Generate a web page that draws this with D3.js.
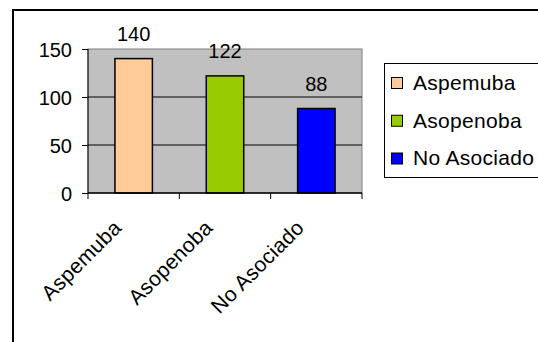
<!DOCTYPE html>
<html>
<head>
<meta charset="utf-8">
<script src="https://cdn.jsdelivr.net/npm/d3@7"></script>
<style>
  html, body { margin: 0; padding: 0; background: #fff; }
  svg { display: block; font-family: "Liberation Sans", Arial, sans-serif; }
</style>
</head>
<body>
<svg id="chart" width="538" height="342"></svg>
<script>
// Chart data
const categories = ["Aspemuba", "Asopenoba", "No Asociado"];
const values = [140, 122, 88];
const colors = ["#FFCC99", "#99CC00", "#0000FF"];
const yTicks = [0, 50, 100, 150];

const svg = d3.select("#chart");
const plot = { left: 88, right: 362, top: 49, bottom: 193 };

// Outer chart frame (runs past the window on the right and bottom)
svg.append("rect")
  .attr("x", 13).attr("y", 10)
  .attr("width", 600).attr("height", 400)
  .attr("fill", "#fff").attr("stroke", "#000").attr("stroke-width", 2);

const x = d3.scaleBand()
  .domain(categories)
  .range([plot.left, plot.right])
  .paddingInner(0.59).paddingOuter(0.295);

const xOuter = d3.scaleBand().domain(categories).range([plot.left, plot.right]);

const y = d3.scaleLinear().domain([0, 150]).range([plot.bottom, plot.top]);

// Plot area
svg.append("rect")
  .attr("x", plot.left).attr("y", plot.top)
  .attr("width", plot.right - plot.left).attr("height", plot.bottom - plot.top)
  .attr("fill", "#C0C0C0").attr("stroke", "#808080").attr("stroke-width", 1);

// Gridlines
svg.append("g").selectAll("line")
  .data(yTicks.filter(t => t > 0 && t < 150))
  .join("line")
  .attr("x1", plot.left).attr("x2", plot.right)
  .attr("y1", d => y(d)).attr("y2", d => y(d))
  .attr("stroke", "#000").attr("stroke-width", 1);

// Bars
svg.append("g").selectAll("rect")
  .data(values)
  .join("rect")
  .attr("x", (d, i) => x(categories[i]))
  .attr("width", x.bandwidth())
  .attr("y", d => y(d))
  .attr("height", d => y(0) - y(d))
  .attr("fill", (d, i) => colors[i])
  .attr("stroke", "#000").attr("stroke-width", 1.5);

// Value labels
svg.append("g").selectAll("text")
  .data(values)
  .join("text")
  .attr("x", (d, i) => x(categories[i]) + x.bandwidth() / 2)
  .attr("y", d => y(d) - 18)
  .attr("text-anchor", "middle")
  .attr("font-size", 20)
  .attr("fill", "#000")
  .text(d => d);

// Y axis
const yAxis = svg.append("g")
  .attr("transform", `translate(${plot.left},0)`)
  .call(d3.axisLeft(y).tickValues(yTicks).tickSize(6).tickPadding(10).tickFormat(d3.format("d")));
yAxis.select(".domain").attr("stroke", "#000").attr("d", `M0,${plot.top}V${plot.bottom}`);
yAxis.selectAll(".tick line").attr("stroke", "#000");
yAxis.selectAll(".tick text")
  .attr("font-size", 20).attr("font-family", "Liberation Sans, Arial, sans-serif")
  .attr("fill", "#000").attr("dy", "0.35em");

// X axis: line plus ticks at category boundaries
const xAxisG = svg.append("g");
xAxisG.append("line")
  .attr("x1", plot.left).attr("x2", plot.right)
  .attr("y1", plot.bottom).attr("y2", plot.bottom)
  .attr("stroke", "#000").attr("stroke-width", 1.5);
const boundaries = categories.map(c => xOuter(c)).concat([plot.right]);
xAxisG.selectAll("line.tick")
  .data(boundaries)
  .join("line")
  .attr("class", "tick")
  .attr("x1", d => d).attr("x2", d => d)
  .attr("y1", plot.bottom).attr("y2", plot.bottom + 6)
  .attr("stroke", "#000");

// Rotated category labels
xAxisG.selectAll("text")
  .data(categories)
  .join("text")
  .attr("transform", d => `translate(${xOuter(d) + xOuter.bandwidth() / 2 - 11},${plot.bottom + 36}) rotate(-45)`)
  .attr("text-anchor", "end")
  .attr("font-size", 21)
  .attr("letter-spacing", 0.3)
  .attr("fill", "#000")
  .text(d => d);

// Legend
const legend = svg.append("g");
legend.append("rect")
  .attr("x", 384.5).attr("y", 63.5)
  .attr("width", 200).attr("height", 114)
  .attr("fill", "#fff").attr("stroke", "#000").attr("stroke-width", 1);
const rowY = d3.scalePoint().domain(categories).range([82.5, 158]);
const rows = legend.selectAll("g.row")
  .data(categories)
  .join("g")
  .attr("class", "row")
  .attr("transform", d => `translate(0,${rowY(d)})`);
rows.append("rect")
  .attr("x", 391.5).attr("y", -5)
  .attr("width", 11).attr("height", 11)
  .attr("fill", (d, i) => colors[i])
  .attr("stroke", "#000").attr("stroke-width", 1);
rows.append("text")
  .attr("x", 413).attr("y", 0).attr("dy", "0.35em")
  .attr("font-size", 21)
  .attr("letter-spacing", 0.3)
  .attr("fill", "#000")
  .text(d => d);
</script>
</body>
</html>
